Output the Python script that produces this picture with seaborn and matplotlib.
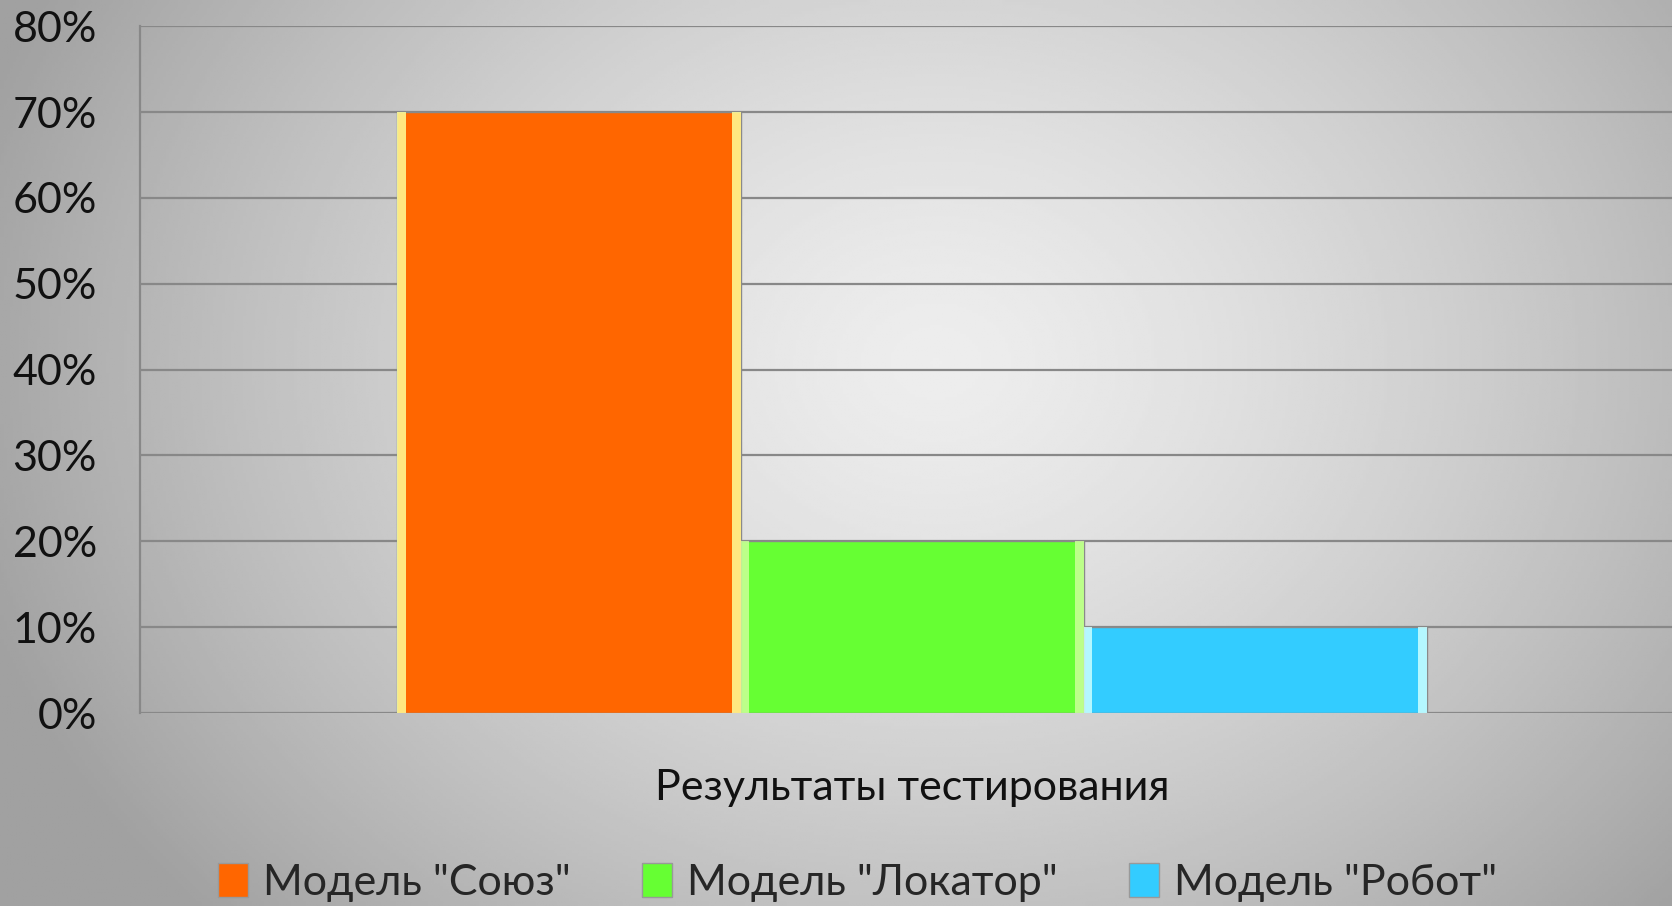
import numpy as np
import pandas as pd
import matplotlib
matplotlib.use("Agg")
import matplotlib.pyplot as plt
import seaborn as sns
from matplotlib.patches import Patch, Rectangle

category = ['Результаты тестирования']
series = ['Модель "Союз"', 'Модель "Локатор"', 'Модель "Робот"']
values = [0.70, 0.20, 0.10]
colors = ['#FF6600', '#66FF33', '#33CCFF']
bevel_colors = ['#FFFF99', '#CCFF99', '#CCFFFF']
y_ticks = [0, 0.1, 0.2, 0.3, 0.4, 0.5, 0.6, 0.7, 0.8]

df = pd.DataFrame({'cat': category * len(series), 'model': series, 'value': values})

sns.set_theme(style="white")
plt.rcParams['font.family'] = ['Lato', 'DejaVu Sans']

fig = plt.figure(figsize=(16.72, 9.06), dpi=100)

# radial gray background
bg = fig.add_axes([0, 0, 1, 1], zorder=-10)
yy, xx = np.mgrid[0:1:300j, 0:1:560j]
r = np.sqrt(((xx - 0.56) * 1.5) ** 2 + (yy - 0.40) ** 2)
shade = 0.93 - 0.30 * np.clip(r / 0.9, 0, 1) ** 1.4
bg.imshow(shade, cmap='gray', vmin=0, vmax=1, aspect='auto', extent=[0, 1, 1, 0])
bg.axis('off')

ax = fig.add_axes([0.0837, 0.213, 0.9163, 0.758])
ax.patch.set_alpha(0)

palette = dict(zip(series, colors))
sns.barplot(data=df, x='cat', y='value', hue='model', palette=palette,
            width=0.672, saturation=1, edgecolor='#8a8a8a', linewidth=1.0,
            legend=False, ax=ax, zorder=3)

# bevel strips along bar sides
for bar, bc in zip(ax.patches, bevel_colors):
    x0, y0 = bar.get_x(), bar.get_y()
    w, h = bar.get_width(), bar.get_height()
    s = w * 0.025
    for xs in (x0, x0 + w - s):
        ax.add_patch(Rectangle((xs, y0), s, h, facecolor=bc, edgecolor='none',
                               alpha=0.85, zorder=4))

ax.set_ylim(0, 0.8)
ax.set_xlim(-0.504, 0.496)
ax.set_yticks(y_ticks)
ax.set_yticklabels([f'{int(round(t * 100))}%' for t in y_ticks], fontsize=31, color='#111111')
ax.yaxis.grid(True, color='#888888', linewidth=1.6, zorder=0)
ax.set_axisbelow(True)
ax.tick_params(axis='y', direction='out', length=12, width=1.6, color='#888888', pad=19)

ax.set_xticks([0])
ax.set_xticklabels(category, fontsize=31, color='#111111')
ax.tick_params(axis='x', length=0, pad=40)
ax.set_xticks([-0.504], minor=True)
ax.tick_params(axis='x', which='minor', direction='out', length=16, width=1.6, color='#888888')

ax.set_xlabel('')
ax.set_ylabel('')
for side in ['top', 'right', 'bottom']:
    ax.spines[side].set_visible(False)
ax.spines['left'].set_color('#888888')
ax.spines['left'].set_linewidth(1.6)

handles = [Patch(facecolor=c, edgecolor='#999999', label=s) for c, s in zip(colors, series)]
fig.legend(handles=handles, loc='center', bbox_to_anchor=(0.513, 0.026), ncol=3,
           frameon=False, fontsize=31, handlelength=0.7, handleheight=0.85,
           handletextpad=0.35, columnspacing=1.65, borderpad=0)

fig.savefig('out.png', dpi=100)
